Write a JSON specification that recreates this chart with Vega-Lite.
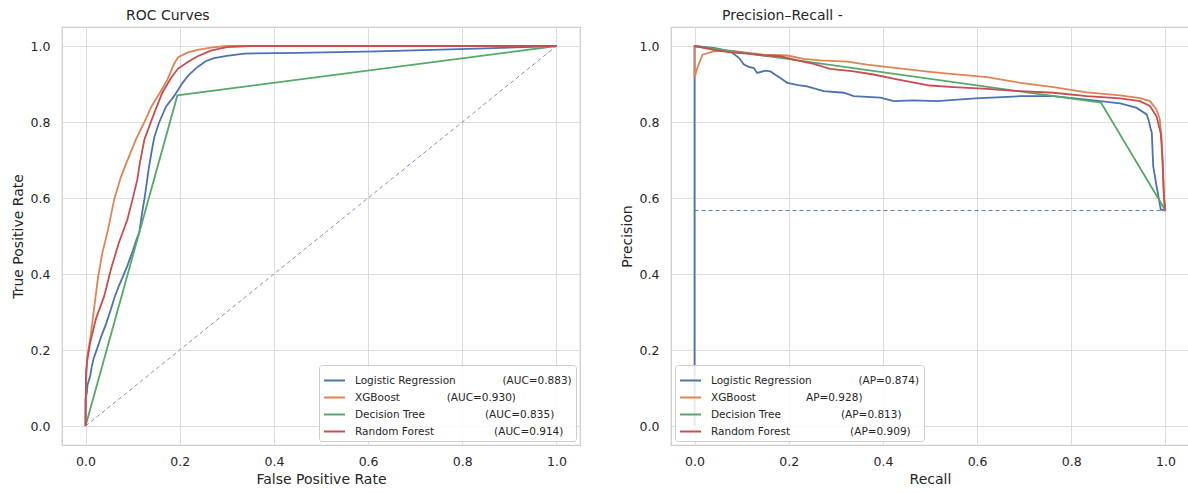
{
  "$schema": "https://vega.github.io/schema/vega-lite/v6.json",
  "padding": {"left": 10, "top": 8, "right": 0, "bottom": 0},
  "background": "white",
  "config": {
    "font": "DejaVu Sans",
    "view": {"stroke": "#cccccc", "strokeWidth": 1.25},
    "axis": {"grid": true, "gridColor": "#dddddd", "gridWidth": 1, "domain": false, "ticks": false, "tickSize": 0, "labelFontSize": 12.5, "labelColor": "#262626", "titleFontSize": 14, "titleFontWeight": "normal", "titleColor": "#262626", "titlePadding": 5, "labelFont": "DejaVu Sans", "titleFont": "DejaVu Sans"},
    "axisX": {"labelPadding": 10},
    "axisY": {"labelPadding": 12},
    "title": {"fontSize": 14, "fontWeight": "normal", "anchor": "start", "frame": "group", "color": "#262626", "font": "DejaVu Sans"},
    "legend": {"labelFontSize": 10.5, "labelColor": "#262626", "labelFont": "DejaVu Sans", "symbolType": "stroke", "symbolStrokeWidth": 2, "symbolSize": 441, "labelOffset": 9, "padding": 4, "rowPadding": -0.8, "fillColor": "rgba(255,255,255,0.85)", "strokeColor": "#cccccc", "cornerRadius": 3, "offset": 4, "labelLimit": 400}
  },
  "datasets": {
    "roc": [
      {"model": "Logistic Regression", "i": 0, "fpr": 0, "tpr": 0},
      {"model": "Logistic Regression", "i": 1, "fpr": 0.0, "tpr": 0.07},
      {"model": "Logistic Regression", "i": 2, "fpr": 0.003, "tpr": 0.09},
      {"model": "Logistic Regression", "i": 3, "fpr": 0.004, "tpr": 0.107},
      {"model": "Logistic Regression", "i": 4, "fpr": 0.007, "tpr": 0.12},
      {"model": "Logistic Regression", "i": 5, "fpr": 0.010, "tpr": 0.133},
      {"model": "Logistic Regression", "i": 6, "fpr": 0.013, "tpr": 0.155},
      {"model": "Logistic Regression", "i": 7, "fpr": 0.017, "tpr": 0.177},
      {"model": "Logistic Regression", "i": 8, "fpr": 0.025, "tpr": 0.205},
      {"model": "Logistic Regression", "i": 9, "fpr": 0.034, "tpr": 0.238},
      {"model": "Logistic Regression", "i": 10, "fpr": 0.044, "tpr": 0.27},
      {"model": "Logistic Regression", "i": 11, "fpr": 0.054, "tpr": 0.308},
      {"model": "Logistic Regression", "i": 12, "fpr": 0.062, "tpr": 0.34},
      {"model": "Logistic Regression", "i": 13, "fpr": 0.071, "tpr": 0.369},
      {"model": "Logistic Regression", "i": 14, "fpr": 0.080, "tpr": 0.395},
      {"model": "Logistic Regression", "i": 15, "fpr": 0.089, "tpr": 0.422},
      {"model": "Logistic Regression", "i": 16, "fpr": 0.100, "tpr": 0.46},
      {"model": "Logistic Regression", "i": 17, "fpr": 0.108, "tpr": 0.49},
      {"model": "Logistic Regression", "i": 18, "fpr": 0.114, "tpr": 0.509},
      {"model": "Logistic Regression", "i": 19, "fpr": 0.120, "tpr": 0.56},
      {"model": "Logistic Regression", "i": 20, "fpr": 0.125, "tpr": 0.597},
      {"model": "Logistic Regression", "i": 21, "fpr": 0.130, "tpr": 0.64},
      {"model": "Logistic Regression", "i": 22, "fpr": 0.134, "tpr": 0.676},
      {"model": "Logistic Regression", "i": 23, "fpr": 0.140, "tpr": 0.72},
      {"model": "Logistic Regression", "i": 24, "fpr": 0.146, "tpr": 0.76},
      {"model": "Logistic Regression", "i": 25, "fpr": 0.156, "tpr": 0.798},
      {"model": "Logistic Regression", "i": 26, "fpr": 0.171, "tpr": 0.841},
      {"model": "Logistic Regression", "i": 27, "fpr": 0.188, "tpr": 0.868},
      {"model": "Logistic Regression", "i": 28, "fpr": 0.206, "tpr": 0.903},
      {"model": "Logistic Regression", "i": 29, "fpr": 0.220, "tpr": 0.925},
      {"model": "Logistic Regression", "i": 30, "fpr": 0.238, "tpr": 0.945},
      {"model": "Logistic Regression", "i": 31, "fpr": 0.255, "tpr": 0.96},
      {"model": "Logistic Regression", "i": 32, "fpr": 0.273, "tpr": 0.968},
      {"model": "Logistic Regression", "i": 33, "fpr": 0.30, "tpr": 0.974},
      {"model": "Logistic Regression", "i": 34, "fpr": 0.337, "tpr": 0.98},
      {"model": "Logistic Regression", "i": 35, "fpr": 0.45, "tpr": 0.982},
      {"model": "Logistic Regression", "i": 36, "fpr": 0.62, "tpr": 0.986},
      {"model": "Logistic Regression", "i": 37, "fpr": 0.83, "tpr": 0.993},
      {"model": "Logistic Regression", "i": 38, "fpr": 1.0, "tpr": 1.0},
      {"model": "XGBoost", "i": 0, "fpr": 0, "tpr": 0},
      {"model": "XGBoost", "i": 1, "fpr": 0.001, "tpr": 0.12},
      {"model": "XGBoost", "i": 2, "fpr": 0.004, "tpr": 0.185},
      {"model": "XGBoost", "i": 3, "fpr": 0.011, "tpr": 0.238},
      {"model": "XGBoost", "i": 4, "fpr": 0.018, "tpr": 0.308},
      {"model": "XGBoost", "i": 5, "fpr": 0.027, "tpr": 0.395},
      {"model": "XGBoost", "i": 6, "fpr": 0.036, "tpr": 0.457},
      {"model": "XGBoost", "i": 7, "fpr": 0.048, "tpr": 0.518},
      {"model": "XGBoost", "i": 8, "fpr": 0.061, "tpr": 0.597},
      {"model": "XGBoost", "i": 9, "fpr": 0.075, "tpr": 0.655},
      {"model": "XGBoost", "i": 10, "fpr": 0.087, "tpr": 0.693},
      {"model": "XGBoost", "i": 11, "fpr": 0.107, "tpr": 0.754},
      {"model": "XGBoost", "i": 12, "fpr": 0.125, "tpr": 0.80},
      {"model": "XGBoost", "i": 13, "fpr": 0.140, "tpr": 0.841},
      {"model": "XGBoost", "i": 14, "fpr": 0.157, "tpr": 0.875},
      {"model": "XGBoost", "i": 15, "fpr": 0.174, "tpr": 0.912},
      {"model": "XGBoost", "i": 16, "fpr": 0.187, "tpr": 0.95},
      {"model": "XGBoost", "i": 17, "fpr": 0.196, "tpr": 0.97},
      {"model": "XGBoost", "i": 18, "fpr": 0.217, "tpr": 0.983},
      {"model": "XGBoost", "i": 19, "fpr": 0.238, "tpr": 0.99},
      {"model": "XGBoost", "i": 20, "fpr": 0.266, "tpr": 0.996},
      {"model": "XGBoost", "i": 21, "fpr": 0.30, "tpr": 1.0},
      {"model": "XGBoost", "i": 22, "fpr": 1.0, "tpr": 1.0},
      {"model": "Decision Tree", "i": 0, "fpr": 0, "tpr": 0},
      {"model": "Decision Tree", "i": 1, "fpr": 0.195, "tpr": 0.87},
      {"model": "Decision Tree", "i": 2, "fpr": 1.0, "tpr": 1.0},
      {"model": "Random Forest", "i": 0, "fpr": 0, "tpr": 0},
      {"model": "Random Forest", "i": 1, "fpr": 0.001, "tpr": 0.14},
      {"model": "Random Forest", "i": 2, "fpr": 0.003, "tpr": 0.168},
      {"model": "Random Forest", "i": 3, "fpr": 0.010, "tpr": 0.22},
      {"model": "Random Forest", "i": 4, "fpr": 0.022, "tpr": 0.282},
      {"model": "Random Forest", "i": 5, "fpr": 0.040, "tpr": 0.343},
      {"model": "Random Forest", "i": 6, "fpr": 0.054, "tpr": 0.413},
      {"model": "Random Forest", "i": 7, "fpr": 0.071, "tpr": 0.483},
      {"model": "Random Forest", "i": 8, "fpr": 0.089, "tpr": 0.544},
      {"model": "Random Forest", "i": 9, "fpr": 0.100, "tpr": 0.597},
      {"model": "Random Forest", "i": 10, "fpr": 0.110, "tpr": 0.649},
      {"model": "Random Forest", "i": 11, "fpr": 0.115, "tpr": 0.69},
      {"model": "Random Forest", "i": 12, "fpr": 0.125, "tpr": 0.754},
      {"model": "Random Forest", "i": 13, "fpr": 0.146, "tpr": 0.824},
      {"model": "Random Forest", "i": 14, "fpr": 0.163, "tpr": 0.877},
      {"model": "Random Forest", "i": 15, "fpr": 0.181, "tpr": 0.915},
      {"model": "Random Forest", "i": 16, "fpr": 0.196, "tpr": 0.94},
      {"model": "Random Forest", "i": 17, "fpr": 0.217, "tpr": 0.958},
      {"model": "Random Forest", "i": 18, "fpr": 0.238, "tpr": 0.973},
      {"model": "Random Forest", "i": 19, "fpr": 0.266, "tpr": 0.988},
      {"model": "Random Forest", "i": 20, "fpr": 0.30, "tpr": 0.997},
      {"model": "Random Forest", "i": 21, "fpr": 0.35, "tpr": 1.0},
      {"model": "Random Forest", "i": 22, "fpr": 1.0, "tpr": 1.0}
    ],
    "roc_chance": [
      {"fpr": 0, "tpr": 0},
      {"fpr": 1, "tpr": 1}
    ],
    "pr": [
      {"model": "Logistic Regression", "i": 0, "recall": 0, "precision": 0.0},
      {"model": "Logistic Regression", "i": 1, "recall": 0, "precision": 1.0},
      {"model": "Logistic Regression", "i": 2, "recall": 0.041, "precision": 0.995},
      {"model": "Logistic Regression", "i": 3, "recall": 0.076, "precision": 0.986},
      {"model": "Logistic Regression", "i": 4, "recall": 0.094, "precision": 0.969},
      {"model": "Logistic Regression", "i": 5, "recall": 0.105, "precision": 0.951},
      {"model": "Logistic Regression", "i": 6, "recall": 0.115, "precision": 0.945},
      {"model": "Logistic Regression", "i": 7, "recall": 0.126, "precision": 0.942},
      {"model": "Logistic Regression", "i": 8, "recall": 0.133, "precision": 0.929},
      {"model": "Logistic Regression", "i": 9, "recall": 0.150, "precision": 0.935},
      {"model": "Logistic Regression", "i": 10, "recall": 0.161, "precision": 0.933},
      {"model": "Logistic Regression", "i": 11, "recall": 0.182, "precision": 0.916},
      {"model": "Logistic Regression", "i": 12, "recall": 0.197, "precision": 0.903},
      {"model": "Logistic Regression", "i": 13, "recall": 0.22, "precision": 0.897},
      {"model": "Logistic Regression", "i": 14, "recall": 0.239, "precision": 0.894},
      {"model": "Logistic Regression", "i": 15, "recall": 0.274, "precision": 0.881},
      {"model": "Logistic Regression", "i": 16, "recall": 0.317, "precision": 0.877},
      {"model": "Logistic Regression", "i": 17, "recall": 0.338, "precision": 0.868},
      {"model": "Logistic Regression", "i": 18, "recall": 0.395, "precision": 0.864},
      {"model": "Logistic Regression", "i": 19, "recall": 0.423, "precision": 0.855},
      {"model": "Logistic Regression", "i": 20, "recall": 0.465, "precision": 0.857},
      {"model": "Logistic Regression", "i": 21, "recall": 0.515, "precision": 0.855},
      {"model": "Logistic Regression", "i": 22, "recall": 0.596, "precision": 0.862},
      {"model": "Logistic Regression", "i": 23, "recall": 0.692, "precision": 0.868},
      {"model": "Logistic Regression", "i": 24, "recall": 0.762, "precision": 0.868},
      {"model": "Logistic Regression", "i": 25, "recall": 0.833, "precision": 0.859},
      {"model": "Logistic Regression", "i": 26, "recall": 0.904, "precision": 0.849},
      {"model": "Logistic Regression", "i": 27, "recall": 0.939, "precision": 0.837},
      {"model": "Logistic Regression", "i": 28, "recall": 0.96, "precision": 0.82},
      {"model": "Logistic Regression", "i": 29, "recall": 0.964, "precision": 0.806},
      {"model": "Logistic Regression", "i": 30, "recall": 0.969, "precision": 0.78},
      {"model": "Logistic Regression", "i": 31, "recall": 0.971, "precision": 0.772},
      {"model": "Logistic Regression", "i": 32, "recall": 0.974, "precision": 0.684},
      {"model": "Logistic Regression", "i": 33, "recall": 0.981, "precision": 0.632},
      {"model": "Logistic Regression", "i": 34, "recall": 0.99, "precision": 0.57},
      {"model": "Logistic Regression", "i": 35, "recall": 1.0, "precision": 0.567},
      {"model": "XGBoost", "i": 0, "recall": 0, "precision": 1.0},
      {"model": "XGBoost", "i": 1, "recall": 0, "precision": 0.916},
      {"model": "XGBoost", "i": 2, "recall": 0.003, "precision": 0.93},
      {"model": "XGBoost", "i": 3, "recall": 0.007, "precision": 0.946},
      {"model": "XGBoost", "i": 4, "recall": 0.017, "precision": 0.977},
      {"model": "XGBoost", "i": 5, "recall": 0.04, "precision": 0.986},
      {"model": "XGBoost", "i": 6, "recall": 0.076, "precision": 0.988},
      {"model": "XGBoost", "i": 7, "recall": 0.147, "precision": 0.977},
      {"model": "XGBoost", "i": 8, "recall": 0.197, "precision": 0.975},
      {"model": "XGBoost", "i": 9, "recall": 0.232, "precision": 0.966},
      {"model": "XGBoost", "i": 10, "recall": 0.267, "precision": 0.962},
      {"model": "XGBoost", "i": 11, "recall": 0.324, "precision": 0.959},
      {"model": "XGBoost", "i": 12, "recall": 0.366, "precision": 0.951},
      {"model": "XGBoost", "i": 13, "recall": 0.43, "precision": 0.942},
      {"model": "XGBoost", "i": 14, "recall": 0.5, "precision": 0.932},
      {"model": "XGBoost", "i": 15, "recall": 0.55, "precision": 0.926},
      {"model": "XGBoost", "i": 16, "recall": 0.621, "precision": 0.918},
      {"model": "XGBoost", "i": 17, "recall": 0.692, "precision": 0.903},
      {"model": "XGBoost", "i": 18, "recall": 0.762, "precision": 0.892},
      {"model": "XGBoost", "i": 19, "recall": 0.833, "precision": 0.878},
      {"model": "XGBoost", "i": 20, "recall": 0.904, "precision": 0.87},
      {"model": "XGBoost", "i": 21, "recall": 0.946, "precision": 0.863},
      {"model": "XGBoost", "i": 22, "recall": 0.967, "precision": 0.855},
      {"model": "XGBoost", "i": 23, "recall": 0.981, "precision": 0.833},
      {"model": "XGBoost", "i": 24, "recall": 0.988, "precision": 0.807},
      {"model": "XGBoost", "i": 25, "recall": 0.992, "precision": 0.754},
      {"model": "XGBoost", "i": 26, "recall": 0.995, "precision": 0.65},
      {"model": "XGBoost", "i": 27, "recall": 0.998, "precision": 0.569},
      {"model": "XGBoost", "i": 28, "recall": 1.0, "precision": 0.567},
      {"model": "Decision Tree", "i": 0, "recall": 0, "precision": 1.0},
      {"model": "Decision Tree", "i": 1, "recall": 0.863, "precision": 0.851},
      {"model": "Decision Tree", "i": 2, "recall": 1.0, "precision": 0.567},
      {"model": "Random Forest", "i": 0, "recall": 0, "precision": 1.0},
      {"model": "Random Forest", "i": 1, "recall": 0.041, "precision": 0.99},
      {"model": "Random Forest", "i": 2, "recall": 0.076, "precision": 0.983},
      {"model": "Random Forest", "i": 3, "recall": 0.112, "precision": 0.98},
      {"model": "Random Forest", "i": 4, "recall": 0.147, "precision": 0.975},
      {"model": "Random Forest", "i": 5, "recall": 0.182, "precision": 0.973},
      {"model": "Random Forest", "i": 6, "recall": 0.218, "precision": 0.962},
      {"model": "Random Forest", "i": 7, "recall": 0.253, "precision": 0.953},
      {"model": "Random Forest", "i": 8, "recall": 0.288, "precision": 0.94},
      {"model": "Random Forest", "i": 9, "recall": 0.338, "precision": 0.933},
      {"model": "Random Forest", "i": 10, "recall": 0.38, "precision": 0.925},
      {"model": "Random Forest", "i": 11, "recall": 0.43, "precision": 0.912},
      {"model": "Random Forest", "i": 12, "recall": 0.5, "precision": 0.896},
      {"model": "Random Forest", "i": 13, "recall": 0.55, "precision": 0.892},
      {"model": "Random Forest", "i": 14, "recall": 0.621, "precision": 0.887},
      {"model": "Random Forest", "i": 15, "recall": 0.692, "precision": 0.881},
      {"model": "Random Forest", "i": 16, "recall": 0.762, "precision": 0.877},
      {"model": "Random Forest", "i": 17, "recall": 0.833, "precision": 0.868},
      {"model": "Random Forest", "i": 18, "recall": 0.904, "precision": 0.862},
      {"model": "Random Forest", "i": 19, "recall": 0.946, "precision": 0.855},
      {"model": "Random Forest", "i": 20, "recall": 0.967, "precision": 0.842},
      {"model": "Random Forest", "i": 21, "recall": 0.981, "precision": 0.815},
      {"model": "Random Forest", "i": 22, "recall": 0.99, "precision": 0.77},
      {"model": "Random Forest", "i": 23, "recall": 0.994, "precision": 0.7},
      {"model": "Random Forest", "i": 24, "recall": 0.997, "precision": 0.6},
      {"model": "Random Forest", "i": 25, "recall": 1.0, "precision": 0.567}
    ],
    "pr_baseline": [
      {"recall": 0, "precision": 0.567},
      {"recall": 1, "precision": 0.567}
    ]
  },
  "hconcat": [
    {
      "width": 518,
      "height": 418,
      "title": {"text": "ROC Curves", "dx": 64, "offset": 4},
      "layer": [
        {
          "data": {"name": "roc_chance"},
          "mark": {"type": "line", "color": "#8172B3", "strokeDash": [4, 3], "strokeWidth": 1, "opacity": 0.85},
          "encoding": {
            "x": {"field": "fpr", "type": "quantitative", "title": "False Positive Rate", "scale": {"domain": [-0.05, 1.05], "nice": false, "zero": false}, "axis": {"values": [0, 0.2, 0.4, 0.6, 0.8, 1.0], "format": ".1f"}},
            "y": {"field": "tpr", "type": "quantitative", "title": "True Positive Rate", "scale": {"domain": [-0.05, 1.05], "nice": false, "zero": false}, "axis": {"values": [0, 0.2, 0.4, 0.6, 0.8, 1.0], "format": ".1f"}}
          }
        },
        {
          "data": {"name": "roc"},
          "mark": {"type": "line", "strokeWidth": 1.8},
          "encoding": {
            "x": {"field": "fpr", "type": "quantitative", "title": "False Positive Rate", "scale": {"domain": [-0.05, 1.05], "nice": false, "zero": false}},
            "y": {"field": "tpr", "type": "quantitative", "title": "True Positive Rate", "scale": {"domain": [-0.05, 1.05], "nice": false, "zero": false}},
            "order": {"field": "i", "type": "quantitative"},
            "color": {
              "field": "model", "type": "nominal",
              "scale": {"domain": ["Logistic Regression", "XGBoost", "Decision Tree", "Random Forest"], "range": ["#4C72B0", "#DD8452", "#55A868", "#C44E52"]},
              "legend": {"title": null, "orient": "bottom-right", "labelExpr": "datum.label == 'Logistic Regression' ? 'Logistic Regression\u00a0\u00a0\u00a0\u00a0\u00a0\u00a0\u00a0\u00a0\u00a0\u00a0\u00a0\u00a0\u00a0\u00a0(AUC=0.883)' : datum.label == 'XGBoost' ? 'XGBoost\u00a0\u00a0\u00a0\u00a0\u00a0\u00a0\u00a0\u00a0\u00a0\u00a0\u00a0\u00a0\u00a0\u00a0(AUC=0.930)' : datum.label == 'Decision Tree' ? 'Decision Tree\u00a0\u00a0\u00a0\u00a0\u00a0\u00a0\u00a0\u00a0\u00a0\u00a0\u00a0\u00a0\u00a0\u00a0\u00a0\u00a0\u00a0\u00a0(AUC=0.835)' : 'Random Forest\u00a0\u00a0\u00a0\u00a0\u00a0\u00a0\u00a0\u00a0\u00a0\u00a0\u00a0\u00a0\u00a0\u00a0\u00a0\u00a0\u00a0\u00a0(AUC=0.914)'"}
            }
          }
        }
      ]
    },
    {
      "width": 518,
      "height": 418,
      "title": {"text": "Precision–Recall -", "dx": 51, "offset": 4},
      "layer": [
        {
          "data": {"name": "pr_baseline"},
          "mark": {"type": "line", "color": "#4C72B0", "strokeDash": [4, 3], "strokeWidth": 1, "opacity": 0.9},
          "encoding": {
            "x": {"field": "recall", "type": "quantitative", "title": "Recall", "scale": {"domain": [-0.05, 1.05], "nice": false, "zero": false}, "axis": {"values": [0, 0.2, 0.4, 0.6, 0.8, 1.0], "format": ".1f"}},
            "y": {"field": "precision", "type": "quantitative", "title": "Precision", "scale": {"domain": [-0.05, 1.05], "nice": false, "zero": false}, "axis": {"values": [0, 0.2, 0.4, 0.6, 0.8, 1.0], "format": ".1f"}}
          }
        },
        {
          "data": {"name": "pr"},
          "mark": {"type": "line", "strokeWidth": 1.8},
          "encoding": {
            "x": {"field": "recall", "type": "quantitative", "title": "Recall", "scale": {"domain": [-0.05, 1.05], "nice": false, "zero": false}},
            "y": {"field": "precision", "type": "quantitative", "title": "Precision", "scale": {"domain": [-0.05, 1.05], "nice": false, "zero": false}},
            "order": {"field": "i", "type": "quantitative"},
            "color": {
              "field": "model", "type": "nominal",
              "scale": {"domain": ["Logistic Regression", "XGBoost", "Decision Tree", "Random Forest"], "range": ["#4C72B0", "#DD8452", "#55A868", "#C44E52"]},
              "legend": {"title": null, "orient": "bottom-left", "labelExpr": "datum.label == 'Logistic Regression' ? 'Logistic Regression\u00a0\u00a0\u00a0\u00a0\u00a0\u00a0\u00a0\u00a0\u00a0\u00a0\u00a0\u00a0\u00a0\u00a0(AP=0.874)' : datum.label == 'XGBoost' ? 'XGBoost\u00a0\u00a0\u00a0\u00a0\u00a0\u00a0\u00a0\u00a0\u00a0\u00a0\u00a0\u00a0\u00a0\u00a0\u00a0AP=0.928)' : datum.label == 'Decision Tree' ? 'Decision Tree\u00a0\u00a0\u00a0\u00a0\u00a0\u00a0\u00a0\u00a0\u00a0\u00a0\u00a0\u00a0\u00a0\u00a0\u00a0\u00a0\u00a0\u00a0(AP=0.813)' : 'Random Forest\u00a0\u00a0\u00a0\u00a0\u00a0\u00a0\u00a0\u00a0\u00a0\u00a0\u00a0\u00a0\u00a0\u00a0\u00a0\u00a0\u00a0\u00a0(AP=0.909)'"}
            }
          }
        }
      ]
    }
  ],
  "spacing": 38,
  "resolve": {"legend": {"color": "independent"}}
}
